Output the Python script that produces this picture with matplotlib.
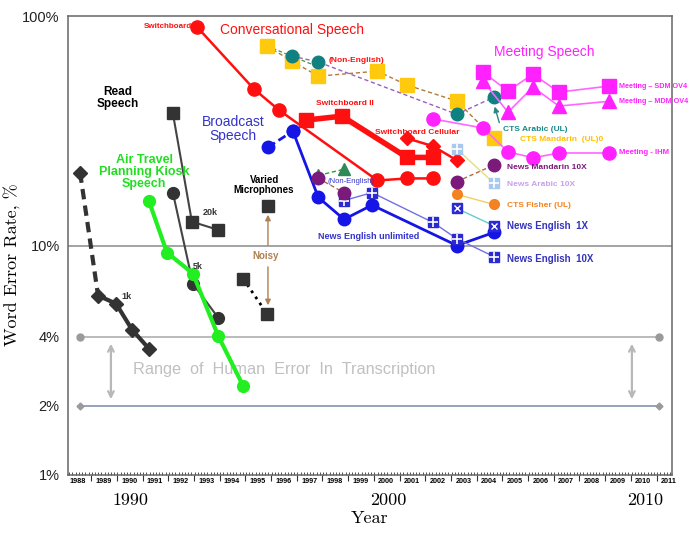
import numpy as np
import matplotlib
matplotlib.use('Agg')
import matplotlib.pyplot as plt
from matplotlib.ticker import NullLocator

plt.rcParams['font.family'] = ['Liberation Sans', 'DejaVu Sans']

# ---- Read speech ----
rm1k_dash_x = [1988.02, 1988.72]
rm1k_dash_y = [20.8, 6.05]
rm1k_x = [1988.72, 1989.42, 1990.04, 1990.70]
rm1k_y = [6.05, 5.58, 4.30, 3.55]
wsj20k_x = [1991.63, 1992.37, 1993.39]
wsj20k_y = [37.7, 12.7, 11.7]
wsj5k_x = [1991.63, 1992.41, 1993.39]
wsj5k_y = [17.0, 6.82, 4.85]
varied_x = [1995.33]
varied_y = [14.9]
noisy_x = [1994.36, 1995.29]
noisy_y = [7.18, 5.05]

# ---- Air travel ----
atis_x = [1990.70, 1991.40, 1992.41, 1993.39, 1994.36]
atis_y = [15.6, 9.32, 7.55, 4.05, 2.45]

# ---- Conversational ----
swb_x = [1992.57, 1994.79, 1995.76, 1999.59, 2000.74, 2001.75]
swb_y = [89.6, 48.0, 38.9, 19.2, 19.6, 19.6]
swb2_x = [1996.81, 1998.21, 2000.74, 2001.75]
swb2_y = [35.2, 36.6, 24.2, 24.2]
swbcell_x = [2000.74, 2001.75, 2002.68]
swbcell_y = [29.3, 27.1, 23.5]
ctsmand_x = [1995.29, 1996.26, 1997.29, 1999.59, 2000.74, 2002.68, 2004.12]
ctsmand_y = [74.0, 63.6, 54.7, 57.5, 50.0, 42.6, 29.3]
ctsarab_x = [1996.26, 1997.29, 2002.68, 2004.12]
ctsarab_y = [66.9, 63.0, 37.3, 44.3]
ctsearly_x = [1995.29, 1997.29]
ctsearly_y = [74.0, 60.0]
fisher_x = [2002.68, 2004.12]
fisher_y = [16.7, 15.1]

# ---- Broadcast ----
bn_dash_x = [1995.33, 1996.30]
bn_dash_y = [26.8, 31.5]
bn_x = [1996.30, 1997.29, 1998.29, 1999.38, 2002.68, 2004.12]
bn_y = [31.5, 16.2, 13.0, 15.0, 10.0, 11.4]
ne10_x = [1998.29, 1999.38, 2001.75, 2002.68, 2004.12]
ne10_y = [15.7, 17.0, 12.6, 10.7, 8.95]
ne1_x = [2002.68, 2004.12]
ne1_y = [14.5, 12.2]
nmand_x = [1997.29, 1998.29, np.nan, 2002.68, 2004.12]
nmand_y = [19.6, 17.0, np.nan, 19.0, 22.4]
bnne_x = [1997.29, 1998.29]
bnne_y = [20.2, 21.5]
narab_x = [2002.68, 2004.12]
narab_y = [26.3, 18.7]

# ---- Meeting ----
mtg_x = [2003.70, 2004.67, 2005.64, 2006.65, 2008.60]
sdm_y = [56.9, 47.1, 55.8, 46.6, 49.5]
mdm_y = [52.0, 38.1, 49.0, 40.5, 42.5]
ihm_x = [2001.75, 2003.70, 2004.67, 2005.64, 2006.65, 2008.60]
ihm_y = [35.6, 32.5, 25.6, 24.1, 25.3, 25.3]

# human error range
human_x = [1988.02, 2010.54]
human_hi = 4
human_lo = 2

year_labels = list(range(1988, 2012))

fig = plt.figure(figsize=(6.91, 5.40), dpi=100)
ax = fig.add_axes([68/691, 65/540, 604/691, 459/540])
ax.set_yscale('log')
ax.set_ylim(1, 100)
ax.set_xlim(1987.55, 2011.05)

# reference lines
ax.axhline(10, color='#8a8a8a', lw=1.1, zorder=1)
ax.plot(human_x, [human_hi]*2, color='#b5b5b5', lw=1.3, marker='o', ms=5,
        mfc='#9a9a9a', mec='#9a9a9a', zorder=1)
ax.plot(human_x, [human_lo]*2, color='#8d9bb3', lw=1.3, marker='D', ms=3.5,
        mfc='#9a9a9a', mec='#9a9a9a', zorder=1)
for xa in [1989.22, 2009.49]:
    ax.annotate('', xy=(xa, human_lo*1.04), xytext=(xa, human_hi*0.96),
                arrowprops=dict(arrowstyle='<->', color='#b8b8b8', lw=1.6))
ax.text(1990.08, 2.87, 'Range  of  Human  Error  In  Transcription', color='#c0c0c0',
        fontsize=11.7, va='center')

dk = '#333333'
# read speech
ax.plot(rm1k_dash_x, rm1k_dash_y, color=dk, lw=3, ls=(0, (2.5, 1.5)), marker='D', ms=7,
        markevery=[0])
ax.plot(rm1k_x, rm1k_y, color=dk, lw=3, marker='D', ms=7)
ax.plot(wsj20k_x, wsj20k_y, color='#444444', lw=1.5, marker='s', ms=8.5, mfc=dk, mec=dk)
ax.plot(wsj5k_x, wsj5k_y, color='#444444', lw=1.5, marker='o', ms=8.5, mfc=dk, mec=dk)
ax.plot(varied_x, varied_y, ls='none', marker='s', ms=8.5, color=dk)
ax.plot(noisy_x, noisy_y, color='black', lw=2, ls=':', marker='s', ms=8.5, mfc=dk, mec=dk)

# air travel
ax.plot(atis_x, atis_y, color='#22ee22', lw=3, marker='o', ms=8.5, zorder=3)

# conversational
red = '#ff1010'
ax.plot(swb_x, swb_y, color=red, lw=1.8, marker='o', ms=9.5)
ax.plot(swb2_x, swb2_y, color=red, lw=4, marker='s', ms=10)
ax.plot(swbcell_x, swbcell_y, color=red, lw=1.8, marker='D', ms=7)
ax.plot(ctsearly_x, ctsearly_y, color='#3a9a3a', lw=0.9, ls=(0, (3, 2)))
ax.plot(ctsmand_x, ctsmand_y, color='#b07a3a', lw=1, ls=(0, (3, 2)), marker='s', ms=10,
        mfc='#ffc90e', mec='#ffc90e')
ax.plot(ctsarab_x, ctsarab_y, color='#9a5fc0', lw=1, ls=(0, (3, 2)), marker='o', ms=9,
        mfc='#118080', mec='#118080')
ax.plot(fisher_x, fisher_y, color='#f0d060', lw=1, marker='o', ms=7,
        mfc='#f58220', mec='#f58220')

# broadcast
blue = '#1515e6'
ax.plot(bn_dash_x, bn_dash_y, color=blue, lw=2, ls=(0, (3, 1.5)), marker='o', ms=9)
ax.plot(bn_x, bn_y, color=blue, lw=2, marker='o', ms=9)
ax.plot(ne10_x, ne10_y, color='#7070e6', lw=1, marker='s', ms=6.5, mfc='#2a2ad0', mec='#2a2ad0')
ax.plot(ne10_x, ne10_y, ls='none', marker='+', ms=6.5, mew=1.2, color='white')
ax.plot(ne1_x, ne1_y, color='#66cccc', lw=1, marker='s', ms=6.5, mfc='#2a2ad0', mec='#2a2ad0')
ax.plot(ne1_x, ne1_y, ls='none', marker='x', ms=4.5, mew=1, color='white')
ax.plot(narab_x, narab_y, color='#e0e080', lw=1, marker='s', ms=6.5, mfc='#a8c8f0', mec='#a8c8f0')
ax.plot(narab_x, narab_y, ls='none', marker='+', ms=6.5, mew=1.2, color='white')
ax.plot(bnne_x, bnne_y, color='#2aa02a', lw=1, ls=(0, (3, 2)), marker='^', ms=8,
        mfc='#2e8b57', mec='#2e8b57')
ax.plot(nmand_x, nmand_y, color='#b06a40', lw=1, ls=(0, (3, 2)), marker='o', ms=9,
        mfc='#7a1a7a', mec='#7a1a7a')

# meeting
mag = '#ff22ff'
ax.plot(mtg_x, sdm_y, color='#ff66ff', lw=1.2, marker='s', ms=10.5, mfc=mag, mec=mag)
ax.plot(mtg_x, mdm_y, color='#ff66ff', lw=1.2, marker='^', ms=10, mfc=mag, mec=mag)
ax.plot(ihm_x, ihm_y, color='#ff66ff', lw=1.2, marker='o', ms=9.5, mfc=mag, mec=mag)

# arrows
brown = '#b08050'
ax.annotate('', xy=(1995.33, 14.0), xytext=(1995.33, 9.75),
            arrowprops=dict(arrowstyle='-|>', color=brown, lw=1, mutation_scale=8))
ax.annotate('', xy=(1995.33, 5.34), xytext=(1995.33, 8.3),
            arrowprops=dict(arrowstyle='-|>', color=brown, lw=1, mutation_scale=8))
ax.annotate('', xy=(2004.12, 41.4), xytext=(2004.36, 33.4),
            arrowprops=dict(arrowstyle='-|>', color='#2a8a80', lw=1, mutation_scale=8))

# labels
def lab(x, y, s, c, fs=6.5, w='bold', ha='left', **kw):
    ax.text(x, y, s, color=c, fontsize=fs, fontweight=w, ha=ha, va='center', **kw)

lab(1992.37, 89.6, 'Switchboard', red, fs=5.8, ha='right')
lab(1993.46, 86.9, 'Conversational Speech', red, fs=10, w='normal')
lab(1997.70, 63.7, '(Non-English)', red, fs=6)
lab(2004.12, 69.7, 'Meeting Speech', mag, fs=10, w='normal')
lab(2008.98, 49.5, 'Meeting \u2013 SDM OV4', mag, fs=5.2)
lab(2008.98, 42.6, 'Meeting \u2013 MDM OV4', mag, fs=5.2)
lab(2008.98, 25.3, 'Meeting - IHM', mag, fs=5.6)
lab(1989.49, 43.9, 'Read\nSpeech', 'black', fs=8.5, ha='center', linespacing=0.95)
lab(1997.20, 41.4, 'Switchboard II', red, fs=6)
lab(1993.97, 32.2, 'Broadcast\nSpeech', '#3333cc', fs=10, w='normal', ha='center', linespacing=0.95)
lab(1999.49, 31.2, 'Switchboard Cellular', red, fs=6)
lab(2004.47, 31.9, 'CTS Arabic (UL)', '#1a8a8a', fs=6)
lab(2005.14, 29.1, 'CTS Mandarin  (UL)0', '#ffc000', fs=6)
lab(2004.63, 21.8, 'News Mandarin 10X', '#7a1a7a', fs=6)
lab(2004.63, 18.5, 'News Arabic 10X', '#c9a0e8', fs=6)
lab(2004.63, 15.0, 'CTS Fisher (UL)', '#f58220', fs=6)
lab(2004.63, 12.2, 'News English  1X', '#3333bb', fs=7)
lab(2004.63, 8.73, 'News English  10X', '#3333bb', fs=7)
lab(1997.28, 10.9, 'News English unlimited', '#3333cc', fs=6.5)
lab(1997.63, 19.1, '(Non-English)', '#3333cc', fs=5.5, w='normal')
lab(1990.51, 20.9, 'Air Travel\nPlanning Kiosk\nSpeech', '#22dd22', fs=9, ha='center',
    linespacing=0.95)
lab(1995.18, 18.4, 'Varied\nMicrophones', 'black', fs=7, ha='center', linespacing=0.95)
lab(1992.80, 13.9, '20k', dk, fs=6.5)
lab(1992.41, 8.14, '5k', dk, fs=6.5)
lab(1989.61, 6.02, '1k', dk, fs=6.5)
lab(1995.25, 9.0, 'Noisy', brown, fs=7, ha='center')

# axes styling
for sp in ax.spines.values():
    sp.set_color('#666666')
    sp.set_linewidth(1.1)
ax.set_yticks([1, 2, 4, 10, 100])
ax.set_yticklabels(['1%', '2%', '4%', '10%', '100%'], fontsize=10.5, color='#222222')
ax.yaxis.set_minor_locator(NullLocator())
ax.tick_params(axis='y', length=0, pad=6)

ax.set_xticks([y - 0.07 for y in year_labels])
ax.set_xticklabels([str(y) for y in year_labels], fontsize=5.2, fontweight='bold')
ax.set_xticks(np.arange(1987.6, 2011.05, 0.125), minor=True)
ax.tick_params(axis='x', which='major', length=0, pad=2)
ax.tick_params(axis='x', which='minor', direction='in', length=2.5, width=0.6, color='#333333')

sec1 = ax.secondary_xaxis('bottom')
sec1.set_xticks([y + 0.45 for y in year_labels[:-1]])
sec1.set_xticklabels([])
sec1.tick_params(direction='out', length=4, width=0.8, color='#333333')
sec1.spines['bottom'].set_visible(False)

sec2 = ax.secondary_xaxis('bottom')
sec2.set_xticks([1990, 2000, 2010])
sec2.set_xticklabels(['1990', '2000', '2010'], fontfamily='cmr10', fontsize=13)
sec2.tick_params(length=0, pad=13)
sec2.spines['bottom'].set_visible(False)
sec2.set_xlabel('Year', fontfamily='cmr10', fontsize=13, labelpad=2)

ax.set_ylabel('Word Error Rate, %', fontfamily='cmr10', fontsize=13)
ax.yaxis.set_label_coords(-0.078, 0.4575)

fig.savefig('out.png', dpi=100)
